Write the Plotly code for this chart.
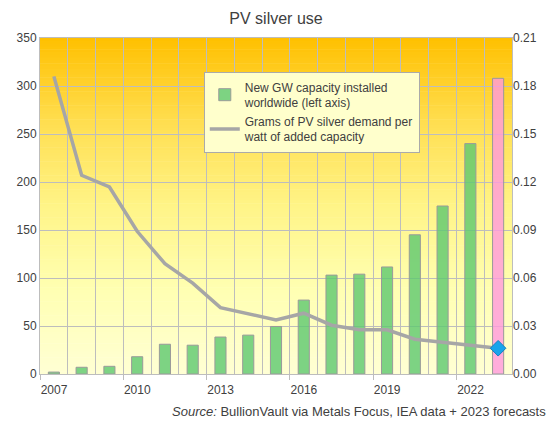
import plotly.graph_objects as go

years = list(range(2007, 2024))
gw_capacity = [2, 7, 8, 18, 31, 30, 38.5, 40.5, 49.5, 77, 103, 104, 111.5, 145, 175, 240, 308]
grams_per_watt = [0.186, 0.1242, 0.1169, 0.0892, 0.0689, 0.0568, 0.0415, 0.0374, 0.0338,
                  0.038, 0.0305, 0.0276, 0.0276, 0.0217, 0.0198, 0.018, 0.0161]
forecast_year = 2023
label_years = [2007, 2010, 2013, 2016, 2019, 2022]
left_ticks = [0, 50, 100, 150, 200, 250, 300, 350]
right_ticks = [0.0, 0.03, 0.06, 0.09, 0.12, 0.15, 0.18, 0.21]

GREEN = "rgba(92,200,111,0.8)"
PINK = "rgba(255,153,221,0.8)"
FONT = "Liberation Sans, Arial, sans-serif"
TXT = "#404040"
GRID = "#BDBDBD"

bar_colors = [PINK if y == forecast_year else GREEN for y in years]

fig = go.Figure()
fig.add_trace(go.Bar(
    x=years, y=gw_capacity, width=0.4,
    marker=dict(color=bar_colors, line=dict(color="#9A9A9A", width=1)),
    name="New GW capacity installed<br>worldwide (left axis)",
    legendgroup="a", yaxis="y",
))
fig.add_trace(go.Scatter(
    x=years, y=grams_per_watt, mode="lines",
    line=dict(color="#A6A6A6", width=3.5),
    name="Grams of PV silver demand per<br>watt of added capacity",
    legendgroup="b", yaxis="y2",
))
fig.add_trace(go.Scatter(
    x=[years[-1]], y=[grams_per_watt[-1]], mode="markers",
    marker=dict(symbol="diamond", size=12, color="#18A4EC",
                line=dict(color="#1580C0", width=1)),
    showlegend=False, yaxis="y2",
))

# vertical gradient background
stops = [(0.0, (255, 192, 0)), (0.25, (255, 222, 80)), (0.5, (255, 244, 135)),
         (0.75, (255, 255, 178)), (1.0, (255, 255, 212))]

def col(t):
    for (t0, c0), (t1, c1) in zip(stops[:-1], stops[1:]):
        if t <= t1:
            f = (t - t0) / (t1 - t0)
            return "rgb(%d,%d,%d)" % tuple(round(a + (b - a) * f) for a, b in zip(c0, c1))
    return "rgb(%d,%d,%d)" % stops[-1][1]

N = 120
shapes = []
for i in range(N):
    t = (i + 0.5) / N  # from top
    shapes.append(dict(type="rect", xref="x domain", yref="y domain", layer="below",
                       x0=0, x1=1, y0=max(0, 1 - (i + 1) / N - 0.002), y1=1 - i / N,
                       fillcolor=col(t), line=dict(width=0)))

fig.update_layout(
    width=553, height=425,
    margin=dict(l=40, r=41, t=38, b=51),
    paper_bgcolor="white", plot_bgcolor="rgba(0,0,0,0)",
    font=dict(family=FONT, size=12, color=TXT),
    title=dict(text="PV silver use", x=0.5, xref="paper", xanchor="center",
               y=1 - 18 / 425, yanchor="middle",
               font=dict(size=16, color=TXT, family=FONT)),
    shapes=shapes,
    barmode="overlay",
    showlegend=True,
    legend=dict(x=0.347, y=0.9, xanchor="left", yanchor="top",
                bgcolor="#FFFFCC", bordercolor="#AAAAAA", borderwidth=1,
                font=dict(size=12, color=TXT, family=FONT),
                traceorder="grouped", tracegroupgap=0,
                itemwidth=30),
    xaxis=dict(
        range=[2006.5, 2023.5], tickmode="array",
        tickvals=[y - 0.5 for y in label_years],
        ticktext=[str(y) for y in label_years],
        ticklabelshift=14,
        ticks="outside", ticklen=5, tickcolor=GRID,
        showgrid=True, gridcolor=GRID, gridwidth=1,
        minor=dict(tickmode="linear", tick0=2006.5, dtick=1, showgrid=True,
                   gridcolor=GRID, gridwidth=1, ticks=""),
        showline=True, linecolor=GRID, linewidth=1, mirror=True,
        zeroline=False, tickfont=dict(size=12, color=TXT),
    ),
    yaxis=dict(
        range=[0, 350], tickmode="array", tickvals=left_ticks,
        showgrid=True, gridcolor=GRID, gridwidth=1,
        showline=True, linecolor=GRID, linewidth=1, mirror=True,
        zeroline=False, ticks="", tickfont=dict(size=12, color=TXT),
    ),
    yaxis2=dict(
        range=[0, 0.21], overlaying="y", side="right", tickmode="array",
        tickvals=right_ticks, ticktext=["%.2f" % v for v in right_ticks],
        showgrid=False, zeroline=False, ticks="", showline=False,
        tickfont=dict(size=12, color=TXT),
    ),
    annotations=[dict(
        text="<i>Source:</i> BullionVault via Metals Focus, IEA data + 2023 forecasts",
        xref="paper", yref="paper", x=(548 - 40) / 472, y=-(411 - 374) / 336,
        xanchor="right", yanchor="middle", showarrow=False,
        font=dict(size=13, color=TXT, family=FONT),
    )],
)

fig.write_html("out.html", config={"displayModeBar": False},
               post_script="document.body.style.margin='0';document.body.style.padding='0';")
